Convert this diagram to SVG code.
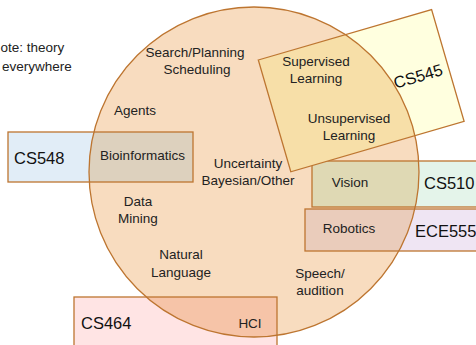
<svg xmlns="http://www.w3.org/2000/svg" width="476" height="345" viewBox="0 0 476 345">
  <style>
    .lbl { font-family: "Liberation Sans", Arial, sans-serif; font-size: 13.5px; fill: #222; text-anchor: middle; }
    .big { font-family: "Liberation Sans", Arial, sans-serif; font-size: 16.5px; fill: #111; }
    .note { font-family: "Liberation Sans", Arial, sans-serif; font-size: 13.5px; fill: #222; }
    .edge { fill: none; stroke: #BD7530; stroke-width: 1.3; }
  </style>
  <defs>
    <clipPath id="circ"><circle cx="254" cy="172" r="165"/></clipPath>
    <path id="cs545shape" d="M258.3,60 L431.6,9.6 L464.1,121.4 L290.8,171.8 Z"/>
  </defs>

  <g id="note">
    <text class="note" x="0.5" y="52">ote: theory</text>
    <text class="note" x="2" y="71">everywhere</text>
  </g>

  <g id="ai-circle">
    <circle cx="254" cy="172" r="165" fill="#F8DCBF"/>
  </g>

  <g id="cs548">
    <rect x="8" y="132" width="185" height="50" fill="#E1EDF7"/>
    <rect x="8" y="132" width="185" height="50" fill="#DDD1BE" clip-path="url(#circ)"/>
    <rect x="8" y="132" width="185" height="50" class="edge"/>
  </g>

  <g id="cs510">
    <rect x="312" y="161" width="170" height="46" fill="#E4F4EA"/>
    <rect x="312" y="161" width="170" height="46" fill="#DFD9B4" clip-path="url(#circ)"/>
    <rect x="312" y="161" width="170" height="46" class="edge"/>
  </g>

  <g id="cs545">
    <use href="#cs545shape" fill="#FFFFDF"/>
    <use href="#cs545shape" fill="#F7DFA8" clip-path="url(#circ)"/>
    <use href="#cs545shape" class="edge"/>
  </g>

  <g id="ece555">
    <rect x="305" y="209" width="180" height="42" fill="#EFE5F3"/>
    <rect x="305" y="209" width="180" height="42" fill="#EACCBB" clip-path="url(#circ)"/>
    <rect x="305" y="209" width="180" height="42" class="edge"/>
  </g>

  <g id="cs464">
    <rect x="74" y="297" width="203" height="60" fill="#FFE4E4"/>
    <rect x="74" y="297" width="203" height="60" fill="#F6C4A8" clip-path="url(#circ)"/>
    <rect x="74" y="297" width="203" height="60" class="edge"/>
  </g>

  <g id="ai-circle-outline">
    <circle cx="254" cy="172" r="165" class="edge"/>
  </g>

  <g id="labels">
    <text class="lbl" x="195" y="57">Search/Planning</text>
    <text class="lbl" x="197" y="74">Scheduling</text>
    <text class="lbl" x="135" y="115">Agents</text>
    <text class="lbl" x="142.5" y="160">Bioinformatics</text>
    <text class="lbl" x="248" y="168">Uncertainty</text>
    <text class="lbl" x="248" y="185">Bayesian/Other</text>
    <text class="lbl" x="138" y="206">Data</text>
    <text class="lbl" x="138" y="223">Mining</text>
    <text class="lbl" x="181" y="259">Natural</text>
    <text class="lbl" x="181" y="277">Language</text>
    <text class="lbl" x="320" y="278">Speech/</text>
    <text class="lbl" x="320" y="295">audition</text>
    <text class="lbl" x="316" y="66">Supervised</text>
    <text class="lbl" x="316" y="83">Learning</text>
    <text class="lbl" x="349" y="123">Unsupervised</text>
    <text class="lbl" x="349" y="140">Learning</text>
    <text class="lbl" x="350" y="187">Vision</text>
    <text class="lbl" x="349" y="233">Robotics</text>
    <text class="lbl" x="250" y="328">HCI</text>
    <text class="big" x="14" y="164">CS548</text>
    <text class="big" x="424" y="189">CS510</text>
    <text class="big" x="415" y="237">ECE555</text>
    <text class="big" x="81" y="329">CS464</text>
    <text class="big" x="418" y="82" text-anchor="middle" transform="rotate(-16.2 418 76)">CS545</text>
  </g>

  <g id="connectors"/>
</svg>
